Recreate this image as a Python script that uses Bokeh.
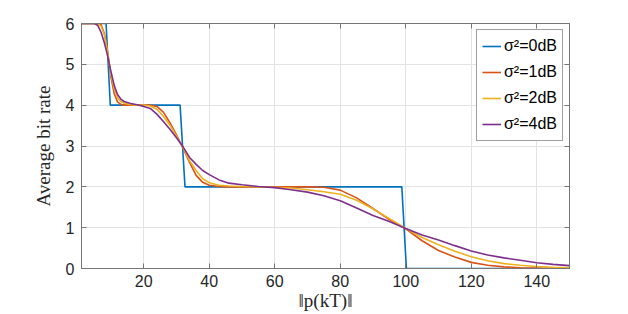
from bokeh.plotting import figure
from bokeh.models import LinearAxis, Range1d, Legend, LegendItem, FixedTicker
from bokeh.embed import file_html
from bokeh.resources import INLINE

# ---- data ----
x_0db = [1, 8.5, 9.8, 31.1, 32.6, 98.8, 100.2, 150]
y_0db = [6, 6, 4, 4, 2, 2, 0, 0]

x_s = [1, 5, 6, 7, 8, 9, 9.5, 10, 11, 12, 13, 14, 16, 18, 20, 22, 24, 26, 28, 30,
       32, 34, 36, 38, 40, 43, 46, 50, 55, 60, 65, 70, 75, 80, 85, 90, 95, 100,
       105, 110, 115, 120, 125, 130, 135, 140, 145, 150]

y_1db = [6.0, 6.0, 6.0, 5.97, 5.75, 5.28, 5.0, 4.68, 4.28, 4.08, 4.02, 4.0, 4.0, 4.0, 4.0, 4.0, 3.97, 3.83, 3.57, 3.27,
         2.95, 2.60, 2.28, 2.11, 2.04, 2.01, 2.0, 2.0, 2.0, 2.0, 2.0, 2.0, 1.99, 1.92, 1.73, 1.47, 1.20, 0.97,
         0.68, 0.44, 0.28, 0.15, 0.08, 0.04, 0.02, 0.01, 0.0, 0.0]

y_2db = [6.0, 6.0, 6.0, 5.93, 5.72, 5.30, 5.0, 4.75, 4.40, 4.18, 4.09, 4.05, 4.01, 4.0, 4.0, 3.98, 3.90, 3.73, 3.51, 3.24,
         2.96, 2.64, 2.40, 2.20, 2.10, 2.04, 2.02, 2.01, 2.0, 1.99, 1.97, 1.93, 1.88, 1.82, 1.67, 1.46, 1.22, 0.98,
         0.76, 0.58, 0.42, 0.29, 0.19, 0.12, 0.08, 0.05, 0.03, 0.02]

y_4db = [6.0, 6.0, 5.95, 5.78, 5.52, 5.20, 5.0, 4.82, 4.48, 4.26, 4.15, 4.09, 4.04, 4.01, 3.97, 3.92, 3.78, 3.60, 3.41, 3.20,
         2.98, 2.72, 2.55, 2.40, 2.30, 2.17, 2.09, 2.05, 2.01, 1.98, 1.93, 1.87, 1.78, 1.66, 1.48, 1.30, 1.15, 0.98,
         0.82, 0.70, 0.56, 0.43, 0.33, 0.26, 0.20, 0.14, 0.10, 0.07]

labels = ["σ²=0dB", "σ²=1dB", "σ²=2dB", "σ²=4dB"]
colors = ["#0072BD", "#D95319", "#EDB120", "#7E2F8E"]
x_ticks = [20, 40, 60, 80, 100, 120, 140]
y_ticks = [0, 1, 2, 3, 4, 5, 6]

AX = "#767676"
TXT = "#262626"

p = figure(width=628, height=314, output_backend="svg", toolbar_location=None,
           x_range=Range1d(1, 150), y_range=Range1d(0, 6),
           min_border_left=81, min_border_right=59, min_border_top=23, min_border_bottom=46)
p.background_fill_color = "white"
p.border_fill_color = "white"
p.outline_line_color = AX
p.outline_line_width = 1

xt = FixedTicker(ticks=x_ticks)
yt = FixedTicker(ticks=y_ticks)
p.xaxis.ticker = xt
p.yaxis.ticker = yt
p.xgrid.ticker = xt
p.ygrid.ticker = yt
for g in (p.xgrid, p.ygrid):
    g.grid_line_color = "#e3e3e3"
    g.grid_line_width = 1

for ax in (p.xaxis, p.yaxis):
    ax.axis_line_color = AX
    ax.major_tick_line_color = AX
    ax.major_tick_in = 5
    ax.major_tick_out = 0
    ax.minor_tick_line_color = None
    ax.major_label_text_font = "Liberation Sans"
    ax.major_label_text_font_size = "16px"
    ax.major_label_text_color = TXT
    ax.axis_label_text_font = "Liberation Serif"
    ax.axis_label_text_font_style = "normal"
    ax.axis_label_text_color = TXT

p.xaxis.axis_label = "‖p(kT)‖"
p.yaxis.axis_label = "Average bit rate"
p.xaxis.axis_label_text_font_size = "19px"
p.yaxis.axis_label_text_font_size = "19px"
p.xaxis.major_label_standoff = 6
p.xaxis.axis_label_standoff = 0
p.yaxis.major_label_standoff = 7
p.yaxis.axis_label_standoff = 9

top = LinearAxis(ticker=xt, major_label_text_font_size="1px", major_label_text_color=None,
                 major_tick_in=5, major_tick_out=0,
                 axis_line_color=AX, major_tick_line_color=AX, minor_tick_line_color=None,
                 major_label_standoff=0)
right = LinearAxis(ticker=yt, major_label_text_font_size="1px", major_label_text_color=None,
                   major_tick_in=5, major_tick_out=0,
                   axis_line_color=AX, major_tick_line_color=AX, minor_tick_line_color=None,
                   major_label_standoff=0)
p.add_layout(top, "above")
p.add_layout(right, "right")

r0 = p.line(x_0db, y_0db, line_color=colors[0], line_width=1.6)
r1 = p.line(x_s, y_1db, line_color=colors[1], line_width=1.6)
r2 = p.line(x_s, y_2db, line_color=colors[2], line_width=1.6)
r3 = p.line(x_s, y_4db, line_color=colors[3], line_width=1.6)

legend = Legend(items=[LegendItem(label=labels[i], renderers=[r]) for i, r in enumerate([r0, r1, r2, r3])],
                location="top_right")
legend.margin = 6
legend.padding = 5
legend.spacing = 4
legend.glyph_width = 19
legend.glyph_height = 22
legend.label_height = 22
legend.label_standoff = 3
legend.label_text_font = "Liberation Sans"
legend.label_text_font_size = "16px"
legend.label_text_color = "black"
legend.border_line_color = "#404040"
legend.border_line_width = 1
legend.background_fill_color = "white"
legend.background_fill_alpha = 1
p.add_layout(legend)

open("out.html", "w").write(file_html(p, INLINE))
